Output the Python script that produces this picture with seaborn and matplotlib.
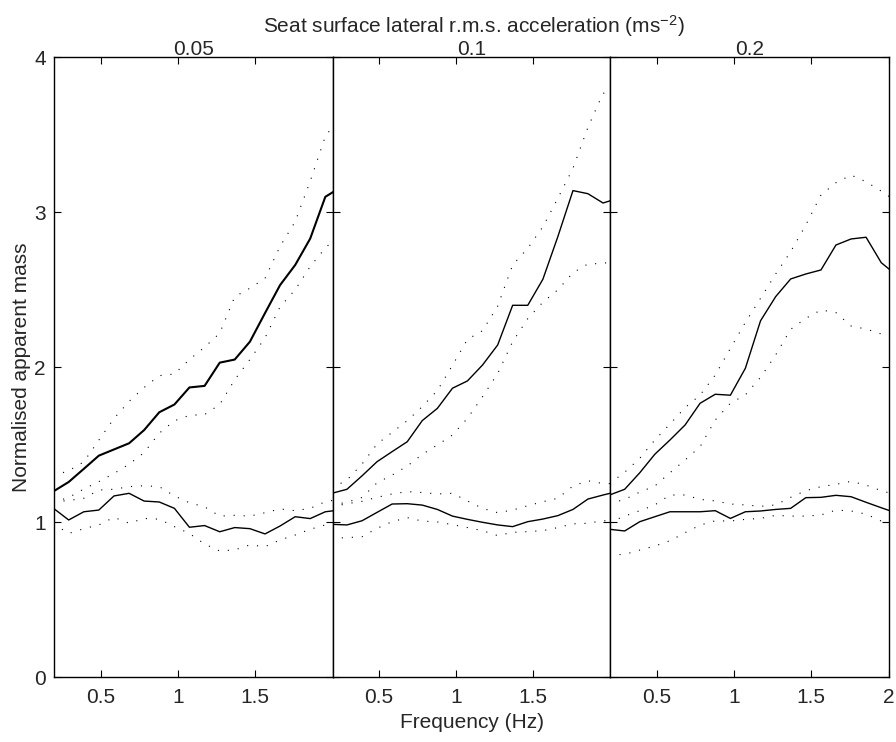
import matplotlib
matplotlib.use("Agg")
import matplotlib.pyplot as plt
import pandas as pd
import seaborn as sns

# frequency grid (Hz)
freq = [0.195, 0.293, 0.391, 0.488, 0.586, 0.684, 0.781, 0.879, 0.977, 1.074,
        1.172, 1.270, 1.367, 1.465, 1.563, 1.660, 1.758, 1.855, 1.953, 2.051]

levels = ["0.05", "0.1", "0.2"]

# rising group (mean, upper, lower), 0.05 ms-2
a_mean_005 = [1.20, 1.26, 1.345, 1.43, 1.47, 1.51, 1.595, 1.71, 1.76, 1.87,
              1.88, 2.03, 2.05, 2.165, 2.35, 2.53, 2.66, 2.83, 3.10, 3.16]
a_up_005 = [1.30, 1.333, 1.39, 1.53, 1.67, 1.78, 1.87, 1.946, 1.957, 2.05,
            2.13, 2.22, 2.455, 2.51, 2.574, 2.78, 2.94, 3.20, 3.49, 3.62]
a_lo_005 = [1.13, 1.16, 1.215, 1.262, 1.315, 1.375, 1.45, 1.575, 1.655, 1.69,
            1.695, 1.76, 1.92, 2.05, 2.19, 2.39, 2.50, 2.65, 2.77, 2.86]
# flat group (mean, upper, lower), 0.05 ms-2
b_mean_005 = [1.09, 1.015, 1.068, 1.079, 1.17, 1.187, 1.137, 1.131, 1.09, 0.968,
              0.979, 0.939, 0.966, 0.959, 0.925, 0.976, 1.036, 1.024, 1.068, 1.08]
b_up_005 = [1.133, 1.14, 1.155, 1.208, 1.213, 1.23, 1.236, 1.23, 1.17, 1.126,
            1.10, 1.04, 1.045, 1.04, 1.062, 1.086, 1.075, 1.09, 1.133, 1.15]
b_lo_005 = [0.99, 0.928, 0.959, 0.983, 1.032, 0.994, 1.025, 1.02, 0.972, 0.928,
            0.86, 0.815, 0.822, 0.854, 0.843, 0.886, 0.918, 0.955, 0.983, 0.995]

# 0.1 ms-2
a_mean_01 = [1.187, 1.213, 1.30, 1.391, 1.456, 1.52, 1.656, 1.735, 1.865, 1.912,
             2.015, 2.144, 2.40, 2.40, 2.568, 2.843, 3.14, 3.12, 3.06, 3.09]
a_up_01 = [1.22, 1.273, 1.376, 1.505, 1.58, 1.656, 1.746, 1.85, 2.013, 2.18,
           2.236, 2.395, 2.66, 2.768, 2.907, 3.09, 3.284, 3.548, 3.768, 3.78]
a_lo_01 = [1.11, 1.13, 1.16, 1.255, 1.305, 1.363, 1.438, 1.499, 1.563, 1.671,
           1.81, 1.96, 2.165, 2.314, 2.42, 2.50, 2.61, 2.667, 2.67, 2.69]
b_mean_01 = [0.987, 0.983, 1.01, 1.064, 1.118, 1.12, 1.111, 1.083, 1.04, 1.019,
             1.0, 0.983, 0.972, 1.004, 1.021, 1.043, 1.083, 1.15, 1.176, 1.20]
b_up_01 = [1.10, 1.12, 1.135, 1.161, 1.183, 1.198, 1.192, 1.183, 1.187, 1.138,
           1.09, 1.062, 1.079, 1.107, 1.133, 1.155, 1.234, 1.268, 1.25, 1.25]
b_lo_01 = [0.897, 0.901, 0.907, 0.961, 1.004, 1.03, 1.008, 1.002, 0.985, 0.966,
           0.946, 0.914, 0.935, 0.94, 0.946, 0.966, 0.99, 0.994, 1.01, 1.01]

# 0.2 ms-2
a_mean_02 = [1.176, 1.213, 1.32, 1.439, 1.531, 1.628, 1.768, 1.826, 1.82, 1.994,
             2.30, 2.456, 2.57, 2.602, 2.628, 2.789, 2.828, 2.839, 2.675, 2.595]
a_up_02 = [1.25, 1.323, 1.413, 1.531, 1.634, 1.74, 1.821, 1.95, 2.122, 2.29,
           2.445, 2.602, 2.746, 2.918, 3.112, 3.191, 3.24, 3.197, 3.137, 3.07]
a_lo_02 = [1.12, 1.148, 1.195, 1.234, 1.32, 1.402, 1.488, 1.66, 1.768, 1.822,
           1.935, 2.08, 2.245, 2.316, 2.37, 2.353, 2.266, 2.247, 2.215, 2.187]
b_mean_02 = [0.955, 0.944, 1.004, 1.036, 1.068, 1.068, 1.068, 1.075, 1.025, 1.068,
             1.073, 1.083, 1.09, 1.159, 1.161, 1.174, 1.165, 1.129, 1.094, 1.06]
b_up_02 = [1.0, 1.04, 1.075, 1.112, 1.176, 1.176, 1.148, 1.138, 1.118, 1.112,
           1.103, 1.112, 1.161, 1.204, 1.23, 1.245, 1.264, 1.24, 1.204, 1.176]
b_lo_02 = [0.789, 0.793, 0.821, 0.847, 0.881, 0.933, 0.982, 1.01, 1.008, 1.019,
           1.025, 1.045, 1.04, 1.04, 1.047, 1.079, 1.073, 1.053, 1.008, 0.96]

panels = [
    (a_mean_005, a_up_005, a_lo_005, b_mean_005, b_up_005, b_lo_005),
    (a_mean_01, a_up_01, a_lo_01, b_mean_01, b_up_01, b_lo_01),
    (a_mean_02, a_up_02, a_lo_02, b_mean_02, b_up_02, b_lo_02),
]

sns.set_style("ticks")
plt.rcParams['font.family'] = ['Liberation Sans', 'DejaVu Sans']
plt.rcParams['mathtext.fontset'] = 'custom'
plt.rcParams['mathtext.rm'] = 'Liberation Sans'
plt.rcParams['mathtext.it'] = 'Liberation Sans:italic'
FS = 15
plt.rcParams['font.size'] = FS

fig = plt.figure(figsize=(8.96, 7.42), dpi=100)
W, H = 896.0, 742.0
x_edges = [54.3, 332.6, 610.3, 888.5]
y_top, y_bot = 57.3, 677.3

dotted = (0, (1, 8))
for i, (lev, curves) in enumerate(zip(levels, panels)):
    l, r = x_edges[i], x_edges[i + 1]
    ax = fig.add_axes([l / W, 1 - y_bot / H, (r - l) / W, (y_bot - y_top) / H])
    am, au, al, bm, bu, bl = curves
    df = pd.DataFrame({"f": freq, "am": am, "au": au, "al": al,
                       "bm": bm, "bu": bu, "bl": bl})
    lw_a = 1.5 if i == 0 else 1.0
    sns.lineplot(data=df, x="f", y="am", ax=ax, color="k", lw=lw_a, estimator=None)
    sns.lineplot(data=df, x="f", y="bm", ax=ax, color="k", lw=1.0, estimator=None)
    for col in ["au", "al", "bu", "bl"]:
        sns.lineplot(data=df, x="f", y=col, ax=ax, color="k", lw=0.8,
                     linestyle=dotted, estimator=None)
    ax.set_xlim(0.2, 2.0)
    ax.set_ylim(0, 4)
    if i == 2:
        ax.set_xticks([0.5, 1, 1.5, 2])
        ax.set_xticklabels(["0.5", "1", "1.5", "2"])
    else:
        ax.set_xticks([0.5, 1, 1.5])
        ax.set_xticklabels(["0.5", "1", "1.5"])
    ax.set_yticks([0, 1, 2, 3, 4])
    if i == 0:
        ax.set_yticklabels(["0", "1", "2", "3", "4"])
    else:
        ax.set_yticklabels([])
    ax.set_xlabel("")
    ax.set_ylabel("")
    ax.tick_params(direction="in", top=True, right=True, length=5, width=0.8,
                   labelsize=FS, color="k")
    ax.tick_params(axis="x", pad=8)
    ax.tick_params(axis="y", pad=6)
    for s in ax.spines.values():
        s.set_visible(True)
        s.set_linewidth(1.0)
        s.set_color("k")
    ax.set_title(lev, fontsize=FS, pad=1.5)

fig.text(474 / W, 1 - 33.3 / H, r"Seat surface lateral r.m.s. acceleration (ms$^{-2}$)",
         ha="center", va="baseline", fontsize=FS)
fig.text(22 / W, 1 - 367.3 / H, "Normalised apparent mass", rotation=90,
         ha="center", va="center", fontsize=FS)
fig.text(471.5 / W, 1 - 722 / H, "Frequency (Hz)", ha="center", va="center", fontsize=FS)

fig.savefig("out.png", dpi=100, facecolor="white")
